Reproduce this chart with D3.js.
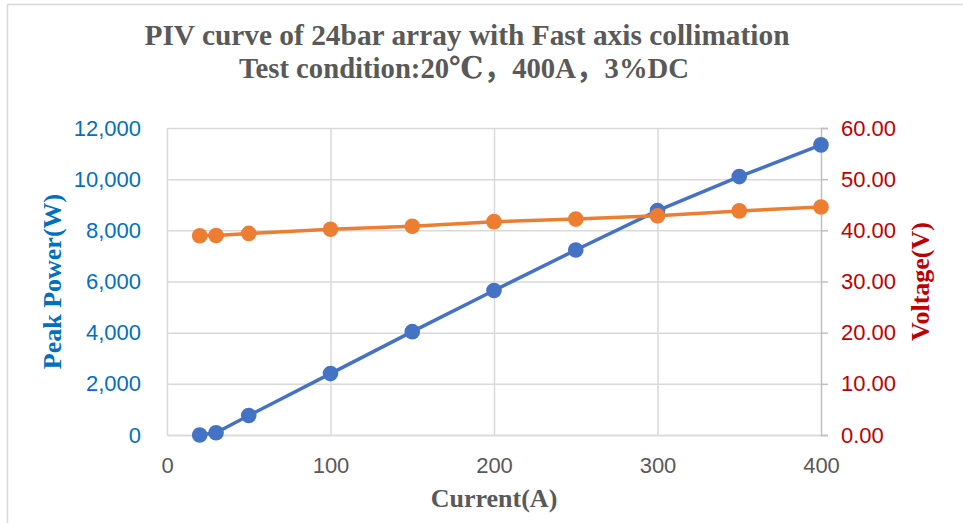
<!DOCTYPE html>
<html>
<head>
<meta charset="utf-8">
<script src="https://cdn.jsdelivr.net/npm/d3@7"></script>
<style>
  body { margin: 0; background: #fff; }
  svg { display: block; }
</style>
</head>
<body>
<div id="chart"></div>
<script>
// Chart data
// ==============================
var current = [20, 30, 50, 100, 150, 200, 250, 300, 350, 400];
var peakPower = [0, 90, 760, 2400, 4040, 5650, 7230, 8770, 10100, 11340];
var voltage = [38.95, 39.0, 39.4, 40.2, 40.8, 41.7, 42.2, 42.85, 43.8, 44.55];

var currentTicks = [0, 100, 200, 300, 400];
var powerTicks = [0, 2000, 4000, 6000, 8000, 10000, 12000];
var voltageTicks = [0, 10, 20, 30, 40, 50, 60];

var titleLines = ["PIV curve of 24bar array with Fast axis collimation",
    "Test condition:20\u2103\uff0c400A\uff0c3%DC"];

var svgWidth = 963;
var svgHeight = 523;

var margin = {
    top: 128,
    right: 142,
    bottom: 88,
    left: 167
};

var width = svgWidth - margin.left - margin.right;
var height = svgHeight - margin.top - margin.bottom;

var serif = "'Liberation Serif', 'DejaVu Serif', 'Noto Sans CJK SC', serif";
var sans = "'Liberation Sans', Arial, sans-serif";

var svg = d3.select("#chart")
    .append("svg")
    .attr("width", svgWidth)
    .attr("height", svgHeight);

// outer chart border
svg.append("rect")
    .attr("x", 7.5)
    .attr("y", 4.5)
    .attr("width", 1000)
    .attr("height", 600)
    .attr("fill", "none")
    .attr("stroke", "#d9d9d9")
    .attr("stroke-width", 1.5);

var chartGroup = svg.append("g")
    .attr("transform", `translate(${margin.left}, ${margin.top})`);

// Scales
// ==============================
var xScale = d3.scaleLinear().domain([0, 400]).range([0, width]);
var yPower = d3.scaleLinear().domain([0, 12000]).range([height, 0]);
var yVolt = d3.scaleLinear().domain([0, 60]).range([height, 0]);

// Gridlines
// ==============================
chartGroup.append("g")
    .attr("class", "grid")
    .call(d3.axisLeft(yPower).tickValues(powerTicks).tickSize(-width).tickFormat(""))
    .call(g => g.select(".domain").remove())
    .call(g => g.selectAll("line").attr("stroke", "#d9d9d9").attr("stroke-width", 1.5));

chartGroup.append("g")
    .attr("class", "grid")
    .attr("transform", `translate(0, ${height})`)
    .call(d3.axisBottom(xScale).tickValues(currentTicks.slice(0, -1)).tickSize(-height).tickFormat(""))
    .call(g => g.select(".domain").remove())
    .call(g => g.selectAll("line").attr("stroke", "#d9d9d9").attr("stroke-width", 1.5));

// Axes
// ==============================
var bottomAxis = d3.axisBottom(xScale).tickValues(currentTicks).tickSize(0).tickPadding(22);
var leftAxis = d3.axisLeft(yPower).tickValues(powerTicks).tickSize(0).tickPadding(26)
    .tickFormat(d3.format(","));
var rightAxis = d3.axisRight(yVolt).tickValues(voltageTicks).tickSize(7).tickPadding(13)
    .tickFormat(d3.format(".2f"));

chartGroup.append("g")
    .attr("transform", `translate(0, ${height})`)
    .call(bottomAxis)
    .call(g => g.select(".domain").attr("stroke", "#d9d9d9").attr("stroke-width", 1.5))
    .call(g => g.selectAll("text")
        .attr("fill", "#595959")
        .attr("font-family", sans)
        .attr("font-size", 22)
        .attr("dy", "0.71em"));

chartGroup.append("g")
    .call(leftAxis)
    .call(g => g.select(".domain").remove())
    .call(g => g.selectAll("text")
        .attr("fill", "#0070c0")
        .attr("font-family", sans)
        .attr("font-size", 22));

chartGroup.append("g")
    .attr("transform", `translate(${width}, 0)`)
    .call(rightAxis)
    .call(g => g.select(".domain").attr("stroke", "#bfbfbf").attr("stroke-width", 1.5))
    .call(g => g.selectAll("line").attr("stroke", "#bfbfbf").attr("stroke-width", 1.5))
    .call(g => g.selectAll("text")
        .attr("fill", "#c00000")
        .attr("font-family", sans)
        .attr("font-size", 22));

// Series lines and markers
// ==============================
var powerData = current.map((c, i) => ({ x: c, y: peakPower[i] }));
var voltData = current.map((c, i) => ({ x: c, y: voltage[i] }));

function drawSeries(data, yScale, color) {
    var line = d3.line()
        .x(d => xScale(d.x))
        .y(d => yScale(d.y));

    chartGroup.append("path")
        .datum(data)
        .attr("d", line)
        .attr("fill", "none")
        .attr("stroke", color)
        .attr("stroke-width", 3.5)
        .attr("stroke-linejoin", "round");

    chartGroup.append("g")
        .selectAll("circle")
        .data(data)
        .enter()
        .append("circle")
        .attr("cx", d => xScale(d.x))
        .attr("cy", d => yScale(d.y))
        .attr("r", 7.8)
        .attr("fill", color);
}

drawSeries(powerData, yPower, "#4472c4");
drawSeries(voltData, yVolt, "#ed7d31");

// Titles
// ==============================
svg.append("text")
    .attr("x", 467)
    .attr("y", 45)
    .attr("text-anchor", "middle")
    .attr("textLength", 645)
    .attr("lengthAdjust", "spacingAndGlyphs")
    .attr("font-family", serif)
    .attr("font-weight", "bold")
    .attr("font-size", 30)
    .attr("fill", "#595959")
    .text(titleLines[0]);

svg.append("text")
    .attr("x", 464)
    .attr("y", 78)
    .attr("text-anchor", "middle")
    .attr("textLength", 450)
    .attr("lengthAdjust", "spacingAndGlyphs")
    .attr("font-family", serif)
    .attr("font-weight", "bold")
    .attr("font-size", 30)
    .attr("fill", "#595959")
    .text(titleLines[1]);

// Axis labels
// ==============================
svg.append("text")
    .attr("transform", `translate(61, ${margin.top + height / 2}) rotate(-90)`)
    .attr("text-anchor", "middle")
    .attr("font-family", serif)
    .attr("font-weight", "bold")
    .attr("font-size", 26)
    .attr("fill", "#0070c0")
    .text("Peak Power(W)");

svg.append("text")
    .attr("transform", `translate(929, ${margin.top + height / 2}) rotate(-90)`)
    .attr("text-anchor", "middle")
    .attr("font-family", serif)
    .attr("font-weight", "bold")
    .attr("font-size", 26)
    .attr("fill", "#c00000")
    .text("Voltage(V)");

svg.append("text")
    .attr("x", margin.left + width / 2)
    .attr("y", 507)
    .attr("text-anchor", "middle")
    .attr("font-family", serif)
    .attr("font-weight", "bold")
    .attr("font-size", 26)
    .attr("fill", "#595959")
    .text("Current(A)");
</script>
</body>
</html>
